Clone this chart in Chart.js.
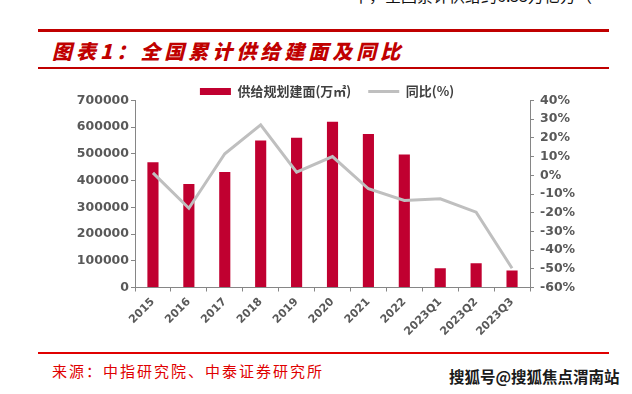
<!DOCTYPE html>
<html>
<head>
<meta charset="utf-8">
<script src="https://cdn.jsdelivr.net/npm/chart.js@4.4.0/dist/chart.umd.min.js"></script>
<style>
  html, body { margin: 0; padding: 0; background: #fff; }
  body { width: 632px; height: 394px; position: relative; overflow: hidden; font-family: "Noto Sans CJK SC", sans-serif; }
  .cut { position: absolute; left: 353px; top: -17px; font-size: 16px; color: #111; white-space: nowrap; }
  .rule { position: absolute; left: 38px; width: 571px; }
  .title { position: absolute; left: 52px; top: 37px; font-size: 20px; line-height: 28px; font-weight: 900; font-style: italic; color: #c00000; letter-spacing: 4px; white-space: nowrap; }
  .source { position: absolute; left: 52px; top: 361px; font-size: 15px; line-height: 20px; color: #e00000; letter-spacing: 2px; white-space: nowrap; }
  .mark { position: absolute; left: 449px; top: 366px; font-size: 15.5px; line-height: 20px; font-weight: bold; color: #1a1a1a; white-space: nowrap; text-shadow: 0 0 2px #fff; }
  #wrap { position: absolute; left: 40px; top: 67.5px; width: 574px; height: 274.5px; }
</style>
</head>
<body>
<div class="cut">中，全国累计供给约6.55万亿方（</div>
<div class="rule" style="top:29px;height:3px;background:#c00000"></div>
<div class="title">图表1：全国累计供给建面及同比</div>
<div class="rule" style="top:67px;height:1.5px;background:#c00000"></div>
<div id="wrap"><canvas id="supplyChart"></canvas></div>
<div class="rule" style="top:352px;height:1.5px;background:#e00000"></div>
<div class="source">来源：中指研究院、中泰证券研究所</div>
<div class="mark">搜狐号@搜狐焦点渭南站</div>
<script>
// 数据
const periods = ['2015', '2016', '2017', '2018', '2019', '2020', '2021', '2022', '2023Q1', '2023Q2', '2023Q3']
const supplyArea = [469000, 387000, 432000, 550000, 561000, 620000, 575000, 498000, 72000, 91000, 64000]
const yoyPct = [1.3, -17.6, 11.5, 27, 1.7, 10, -7.2, -13.5, -12.6, -19.7, -49.7]

const axisGray = '#868686'
const labelGray = '#595959'

Chart.defaults.font.family = '"DejaVu Sans", sans-serif'

const ctx = document.getElementById('supplyChart').getContext('2d')
const supplyChart = new Chart(ctx, {
  type: 'bar',
  data: {
    labels: periods,
    datasets: [
      {
        label: '供给规划建面(万㎡)',
        data: supplyArea,
        backgroundColor: '#c00030',
        borderWidth: 0,
        categoryPercentage: 1,
        barPercentage: 0.31,
        pointStyle: 'rect',
        yAxisID: 'y',
        order: 1
      },
      {
        type: 'line',
        label: '同比(%)',
        data: yoyPct,
        borderColor: '#bfbfbf',
        backgroundColor: '#bfbfbf',
        borderWidth: 3,
        pointRadius: 0,
        pointStyle: 'line',
        tension: 0,
        yAxisID: 'y1',
        order: 0
      }
    ]
  },
  options: {
    responsive: true,
    maintainAspectRatio: false,
    animation: false,
    layout: { padding: 0 },
    plugins: {
      tooltip: { enabled: false },
      legend: {
        position: 'top',
        maxHeight: 32.5,
        labels: {
          usePointStyle: true,
          pointStyleWidth: 31,
          boxHeight: 7,
          padding: 17,
          color: '#404040',
          font: { family: '"Noto Sans CJK SC", sans-serif', size: 13, weight: 'bold' },
          sort: (a, b) => a.datasetIndex - b.datasetIndex
        }
      }
    },
    scales: {
      x: {
        grid: { drawOnChartArea: false, drawTicks: true, tickLength: 4, color: axisGray, offset: true },
        border: { color: axisGray },
        ticks: {
          color: labelGray,
          font: { size: 11, weight: 'bold' },
          minRotation: 45,
          maxRotation: 45,
          padding: 4,
          autoSkip: false
        },
        afterFit: (scale) => { scale.height = 55 }
      },
      y: {
        position: 'left',
        min: 0,
        max: 700000,
        grid: { drawOnChartArea: false, tickLength: 4, color: axisGray },
        border: { color: axisGray },
        ticks: {
          stepSize: 100000,
          padding: 2,
          color: labelGray,
          font: { size: 12.5, weight: 'bold' },
          callback: (v) => String(v)
        },
        afterFit: (scale) => { scale.width = 95 }
      },
      y1: {
        position: 'right',
        min: -60,
        max: 40,
        grid: { drawOnChartArea: false, tickLength: 4, color: axisGray },
        border: { color: axisGray },
        ticks: {
          stepSize: 10,
          padding: 6,
          color: labelGray,
          font: { size: 12.5, weight: 'bold' },
          callback: (v) => v + '%'
        },
        afterFit: (scale) => { scale.width = 84 }
      }
    }
  }
})
</script>
</body>
</html>
